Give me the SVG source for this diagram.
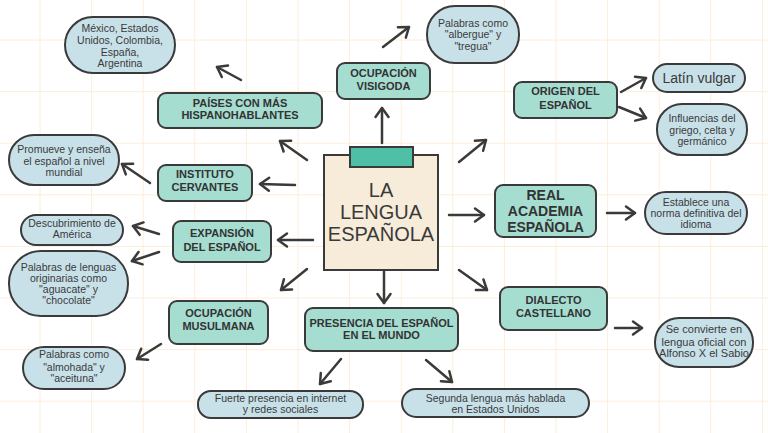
<svg xmlns="http://www.w3.org/2000/svg" width="768" height="433" viewBox="0 0 768 433">
<defs>
<style>
.grid line{stroke:#fdeedb;stroke-width:1}
.t rect{fill:#a6ddd1;stroke:#3a3a3a;stroke-width:2}
.b rect{fill:#c8e1e9;stroke:#3a3a3a;stroke-width:2}
.t text{font-family:"Liberation Sans",Arial,sans-serif;font-weight:bold;font-size:11px;fill:#333;text-anchor:middle}
.b text{font-family:"Liberation Sans",Arial,sans-serif;font-size:10.5px;fill:#3a3a3a;text-anchor:middle}
.c text{font-family:"Liberation Sans",Arial,sans-serif;font-size:20px;fill:#3a3a3a;text-anchor:middle}
#edges line{stroke:#3a3a3a;stroke-width:2.5;stroke-linecap:round;marker-end:url(#ah)}
</style>
<marker id="ah" viewBox="-12 -8 14 16" markerWidth="14" markerHeight="16" refX="0" refY="0" orient="auto" markerUnits="userSpaceOnUse" overflow="visible">
<path d="M-9,-6.5 L0,0 L-9,6.5" fill="none" stroke="#3a3a3a" stroke-width="2.5" stroke-linecap="round" stroke-linejoin="round"/>
</marker>
</defs>
<rect width="768" height="433" fill="#ffffff"/>
<g class="grid">
<line x1="40" y1="0" x2="40" y2="433"/><line x1="91.6" y1="0" x2="91.6" y2="433"/><line x1="143.2" y1="0" x2="143.2" y2="433"/><line x1="194.8" y1="0" x2="194.8" y2="433"/><line x1="246.4" y1="0" x2="246.4" y2="433"/><line x1="298" y1="0" x2="298" y2="433"/><line x1="349.6" y1="0" x2="349.6" y2="433"/><line x1="401.2" y1="0" x2="401.2" y2="433"/><line x1="452.8" y1="0" x2="452.8" y2="433"/><line x1="504.4" y1="0" x2="504.4" y2="433"/><line x1="556" y1="0" x2="556" y2="433"/><line x1="607.6" y1="0" x2="607.6" y2="433"/><line x1="659.2" y1="0" x2="659.2" y2="433"/><line x1="710.8" y1="0" x2="710.8" y2="433"/><line x1="762.4" y1="0" x2="762.4" y2="433"/>
<line x1="0" y1="40" x2="768" y2="40"/><line x1="0" y1="91.6" x2="768" y2="91.6"/><line x1="0" y1="143.2" x2="768" y2="143.2"/><line x1="0" y1="194.8" x2="768" y2="194.8"/><line x1="0" y1="246.4" x2="768" y2="246.4"/><line x1="0" y1="298" x2="768" y2="298"/><line x1="0" y1="349.6" x2="768" y2="349.6"/><line x1="0" y1="401.2" x2="768" y2="401.2"/>
</g>
<g id="edges">
<line x1="241" y1="80" x2="217" y2="67"/>
<line x1="307" y1="160" x2="280" y2="141"/>
<line x1="295" y1="185" x2="260" y2="184"/>
<line x1="150" y1="183" x2="122" y2="164"/>
<line x1="382" y1="143" x2="382" y2="108"/>
<line x1="383" y1="47" x2="409" y2="27"/>
<line x1="459" y1="162" x2="486" y2="140"/>
<line x1="621" y1="92" x2="646" y2="78"/>
<line x1="619" y1="107" x2="646" y2="118"/>
<line x1="449" y1="215" x2="484" y2="215"/>
<line x1="607" y1="213" x2="635" y2="213"/>
<line x1="459" y1="270" x2="487" y2="290"/>
<line x1="615" y1="328" x2="642" y2="328"/>
<line x1="384" y1="270" x2="384" y2="303"/>
<line x1="341" y1="359" x2="320" y2="384"/>
<line x1="426" y1="360" x2="452" y2="382"/>
<line x1="313" y1="240" x2="278" y2="240"/>
<line x1="159" y1="234" x2="133" y2="226"/>
<line x1="159" y1="252" x2="132" y2="261"/>
<line x1="307" y1="269" x2="281" y2="290"/>
<line x1="161" y1="344" x2="137" y2="359"/>
</g>
<g id="center" class="c">
<rect x="324" y="155" width="114" height="115" fill="#f6ecd9" stroke="#3a3a3a" stroke-width="2"/>
<rect x="350" y="147" width="63" height="20" fill="#4fbfa6" stroke="#3a3a3a" stroke-width="2"/>
<text x="381" y="197">LA</text>
<text x="381" y="219">LENGUA</text>
<text x="381" y="241">ESPAÑOLA</text>
</g>
<g id="paises" class="t"><rect x="158" y="93" width="164" height="35" rx="8"/><text x="240" y="107">PAÍSES CON MÁS</text><text x="240" y="119">HISPANOHABLANTES</text></g>
<g id="instituto" class="t"><rect x="158" y="165" width="94" height="36" rx="8"/><text x="205" y="178">INSTITUTO</text><text x="205" y="191">CERVANTES</text></g>
<g id="visigoda" class="t"><rect x="337" y="63" width="93" height="36" rx="8"/><text x="383.5" y="77">OCUPACIÓN</text><text x="383.5" y="90">VISIGODA</text></g>
<g id="origen" class="t"><rect x="514" y="82" width="103" height="36" rx="8"/><text x="565.5" y="95">ORIGEN DEL</text><text x="565.5" y="109">ESPAÑOL</text></g>
<g id="rae" class="t"><rect x="495" y="185" width="101" height="52" rx="8"/><text x="545.5" y="200" style="font-size:14px">REAL</text><text x="545.5" y="216" style="font-size:14px">ACADEMIA</text><text x="545.5" y="232" style="font-size:14px">ESPAÑOLA</text></g>
<g id="dialecto" class="t"><rect x="500" y="287" width="107" height="43" rx="8"/><text x="553.5" y="304">DIALECTO</text><text x="553.5" y="317">CASTELLANO</text></g>
<g id="presencia" class="t"><rect x="305" y="308" width="153" height="43" rx="8"/><text x="381.5" y="327">PRESENCIA DEL ESPAÑOL</text><text x="381.5" y="339">EN EL MUNDO</text></g>
<g id="expansion" class="t"><rect x="173" y="221" width="98" height="41" rx="8"/><text x="222" y="237">EXPANSIÓN</text><text x="222" y="251">DEL ESPAÑOL</text></g>
<g id="musulmana" class="t"><rect x="169" y="301" width="99" height="43" rx="8"/><text x="218.5" y="317">OCUPACIÓN</text><text x="218.5" y="330">MUSULMANA</text></g>
<g id="paises-list" class="b"><rect x="65" y="17" width="110" height="56" rx="28"/><text x="120" y="32">México, Estados</text><text x="120" y="44">Unidos, Colombia,</text><text x="120" y="56">España,</text><text x="120" y="67">Argentina</text></g>
<g id="promueve" class="b"><rect x="9" y="135" width="110" height="50" rx="25"/><text x="64" y="153">Promueve y enseña</text><text x="64" y="165">el español a nivel</text><text x="64" y="176">mundial</text></g>
<g id="albergue" class="b"><rect x="427" y="6" width="92" height="57" rx="28"/><text x="473" y="27">Palabras como</text><text x="473" y="38">"albergue" y</text><text x="473" y="50">"tregua"</text></g>
<g id="latin" class="b"><rect x="653" y="64" width="92" height="28" rx="14"/><text x="699" y="83" style="font-size:14px">Latín vulgar</text></g>
<g id="influencias" class="b"><rect x="657" y="104" width="90" height="51" rx="25"/><text x="702" y="122">Influencias del</text><text x="702" y="134">griego, celta y</text><text x="702" y="145">germánico</text></g>
<g id="establece" class="b"><rect x="645" y="192" width="102" height="42" rx="21"/><text x="696" y="206">Establece una</text><text x="696" y="217">norma definitiva del</text><text x="696" y="228">idioma</text></g>
<g id="convierte" class="b"><rect x="655" y="318" width="98" height="49" rx="24"/><text x="704" y="333" style="font-size:11px">Se convierte en</text><text x="704" y="346" style="font-size:11px">lengua oficial con</text><text x="704" y="357" style="font-size:11px">Alfonso X el Sabio</text></g>
<g id="segunda" class="b"><rect x="402" y="389" width="187" height="28" rx="14"/><text x="495.5" y="402">Segunda lengua más hablada</text><text x="495.5" y="413">en Estados Unidos</text></g>
<g id="fuerte" class="b"><rect x="198" y="391" width="165" height="27" rx="13"/><text x="280.5" y="402">Fuerte presencia en internet</text><text x="280.5" y="413">y redes sociales</text></g>
<g id="almohada" class="b"><rect x="23" y="347" width="102" height="42" rx="21"/><text x="74" y="358">Palabras como</text><text x="74" y="371">"almohada" y</text><text x="74" y="382">"aceituna"</text></g>
<g id="lenguas" class="b"><rect x="9" y="251" width="119" height="65" rx="32"/><text x="68.5" y="271">Palabras de lenguas</text><text x="68.5" y="282">originarias como</text><text x="68.5" y="293">"aguacate" y</text><text x="68.5" y="304">"chocolate"</text></g>
<g id="america" class="b"><rect x="21" y="215" width="102" height="30" rx="15"/><text x="72" y="227">Descubrimiento de</text><text x="72" y="238">América</text></g>
</svg>
